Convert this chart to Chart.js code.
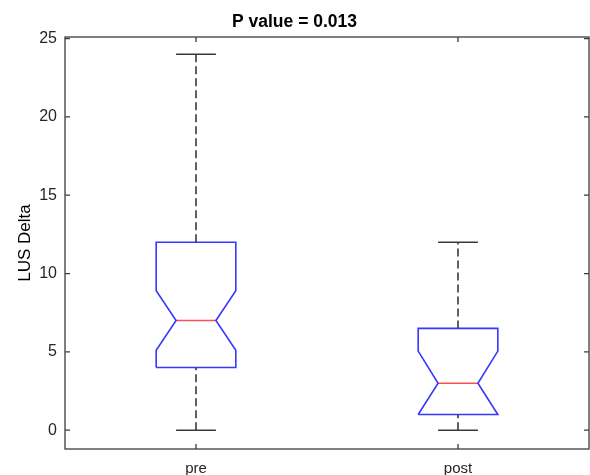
<!DOCTYPE html>
<html>
<head>
<meta charset="utf-8">
<script src="https://cdn.jsdelivr.net/npm/chart.js@4"></script>
<style>
html, body { margin: 0; padding: 0; background: #fff; }
#wrap { width: 590px; height: 475px; }
</style>
</head>
<body>
<div id="wrap"><canvas id="boxChart"></canvas></div>
<script>
// box plot values
const groups = ['pre', 'post'];
const whiskerLow = [0, 0];
const q1 = [4, 1];
const notchLow = [5.1, 1];
const median = [7, 3];
const notchHigh = [8.9, 5.05];
const q3 = [12, 6.5];
const whiskerHigh = [24, 12];
const yTicks = [0, 5, 10, 15, 20, 25];

const boxHalf = 0.152;
const notchHalf = 0.076;
const boxColor = 'rgb(55,55,255)';
const medianColor = 'rgb(255,80,80)';
const whiskerColor = '#3a3a3a';
const axisColor = '#3c3c3c';

function line(points, color, dash) {
    return {
        data: points,
        showLine: true,
        borderColor: color,
        borderWidth: 1.6,
        borderDash: dash || [],
        pointRadius: 0,
        fill: false
    };
}

var datasets = [];
for (var i = 0; i < groups.length; i++) {
    var x = i + 1;
    // dashed whiskers
    datasets.push(line([{x: x, y: q3[i]}, {x: x, y: whiskerHigh[i]}], whiskerColor, [8, 4]));
    datasets.push(line([{x: x, y: whiskerLow[i]}, {x: x, y: q1[i]}], whiskerColor, [8, 4]));
    // caps
    datasets.push(line([{x: x - notchHalf, y: whiskerHigh[i]}, {x: x + notchHalf, y: whiskerHigh[i]}], whiskerColor));
    datasets.push(line([{x: x - notchHalf, y: whiskerLow[i]}, {x: x + notchHalf, y: whiskerLow[i]}], whiskerColor));
    // notched box
    datasets.push(line([
        {x: x - boxHalf, y: q1[i]},
        {x: x - boxHalf, y: notchLow[i]},
        {x: x - notchHalf, y: median[i]},
        {x: x - boxHalf, y: notchHigh[i]},
        {x: x - boxHalf, y: q3[i]},
        {x: x + boxHalf, y: q3[i]},
        {x: x + boxHalf, y: notchHigh[i]},
        {x: x + notchHalf, y: median[i]},
        {x: x + boxHalf, y: notchLow[i]},
        {x: x + boxHalf, y: q1[i]},
        {x: x - boxHalf, y: q1[i]}
    ], boxColor));
    // median
    datasets.push(line([{x: x - notchHalf, y: median[i]}, {x: x + notchHalf, y: median[i]}], medianColor));
}

// matlab style box with inward ticks
const framePlugin = {
    id: 'frame',
    beforeDatasetsDraw(chart) {
        var ctx = chart.ctx;
        var a = chart.chartArea;
        var xs = chart.scales.x, ys = chart.scales.y;
        ctx.save();
        ctx.strokeStyle = axisColor;
        ctx.lineWidth = 1.3;
        ctx.strokeRect(a.left, a.top, a.right - a.left, a.bottom - a.top);
        ctx.beginPath();
        for (var t of ys.ticks) {
            var py = ys.getPixelForValue(t.value);
            ctx.moveTo(a.left, py); ctx.lineTo(a.left + 5, py);
            ctx.moveTo(a.right, py); ctx.lineTo(a.right - 5, py);
        }
        for (var t of xs.ticks) {
            var px = xs.getPixelForValue(t.value);
            ctx.moveTo(px, a.bottom); ctx.lineTo(px, a.bottom - 5);
            ctx.moveTo(px, a.top); ctx.lineTo(px, a.top + 5);
        }
        ctx.stroke();
        ctx.restore();
    }
};

Chart.defaults.font.family = '"Liberation Sans", Arial, sans-serif';
Chart.defaults.color = '#262626';

new Chart(document.getElementById('boxChart'), {
    type: 'scatter',
    data: { datasets: datasets },
    options: {
        responsive: true,
        maintainAspectRatio: false,
        animation: false,
        layout: { padding: { top: 0, right: 1, left: 0, bottom: 0 } },
        plugins: {
            legend: { display: false },
            tooltip: { enabled: false },
            title: {
                display: true,
                text: 'P value = 0.013',
                color: '#000',
                font: { size: 17.5, weight: 'bold' },
                padding: { top: 12, bottom: 4 }
            }
        },
        scales: {
            x: {
                type: 'linear',
                min: 0.5,
                max: 2.5,
                afterBuildTicks: s => { s.ticks = groups.map((g, i) => ({ value: i + 1 })); },
                afterFit: s => { s.height = 26; },
                grid: { display: false },
                border: { display: false },
                ticks: {
                    padding: 3,
                    font: { size: 15 },
                    callback: v => groups[v - 1]
                }
            },
            y: {
                min: -1.2,
                max: 25.1,
                afterBuildTicks: s => { s.ticks = yTicks.map(v => ({ value: v })); },
                afterFit: s => { s.width = 65; },
                grid: { display: false },
                border: { display: false },
                ticks: { padding: 0, font: { size: 16 } },
                title: {
                    display: true,
                    text: 'LUS Delta',
                    color: '#000',
                    font: { size: 17 },
                    padding: { top: 15, bottom: 0 }
                }
            }
        }
    },
    plugins: [framePlugin]
});
</script>
</body>
</html>
